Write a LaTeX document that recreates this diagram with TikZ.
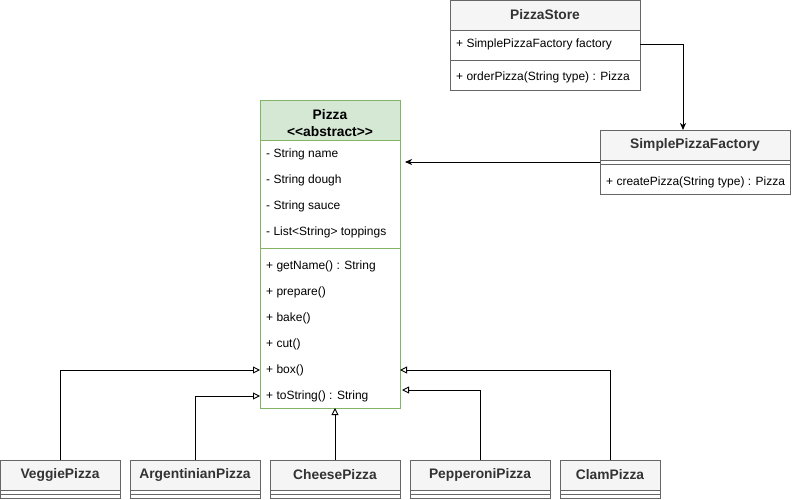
\documentclass[tikz,border=0pt]{standalone}
\usepackage{fontspec}
\setmainfont{Liberation Sans}
\usetikzlibrary{arrows.meta,calc}
\definecolor{hdrfill}{HTML}{F5F5F5}
\definecolor{hdrdraw}{HTML}{666666}
\definecolor{hdrtext}{HTML}{333333}
\definecolor{grnfill}{HTML}{D5E8D4}
\definecolor{grndraw}{HTML}{82B366}
\begin{document}
\begin{tikzpicture}[x=1pt,y=-1pt,
  classbox/.style={draw=hdrdraw, fill=white, inner sep=0pt, outer sep=0pt, anchor=north west, line width=0.9pt},
  hdr/.style={draw=hdrdraw, fill=hdrfill, inner sep=0pt, outer sep=0pt, anchor=north west, line width=0.9pt,
     text=hdrtext, font=\fontsize{13.8}{16}\selectfont\bfseries},
  ghdr/.style={draw=grndraw, fill=grnfill, inner sep=0pt, outer sep=0pt, anchor=north west, line width=0.9pt},
  glabel/.style={inner sep=0pt, text=black, align=center, font=\fontsize{13.8}{16.5}\selectfont\bfseries},
  gbox/.style={draw=grndraw, fill=white, inner sep=0pt, outer sep=0pt, anchor=north west, line width=0.9pt},
  member/.style={anchor=west, inner sep=0pt, font=\fontsize{12}{14}\selectfont},
  sepline/.style={draw=hdrdraw, line width=0.9pt},
  gsep/.style={draw=grndraw, line width=0.9pt},
  conn/.style={draw=black, line width=0.9pt},
  assoc/.style={conn, -{Stealth[length=7pt, width=6pt, inset=2pt]}},
  inherit/.style={conn, -{Triangle[open, length=7pt, width=7pt, fill=white]}}
]
\useasboundingbox (0,0) rectangle (792,500);

% PizzaStore
\node[classbox, minimum width=190pt, minimum height=90pt] (store) at (450,0) {};
\node[hdr, minimum width=190pt, minimum height=30pt] (storehdr) at (450,0) {PizzaStore};
\node[inner sep=0pt, outer sep=0pt, anchor=north west, minimum width=190pt, minimum height=30pt] (storeattr) at (450,29) {};
\node[member] (sa1) at (456,44) {+ SimplePizzaFactory factory};
\draw[sepline] (450,60) -- (640,60);
\node[member] (sm1) at (456,77) {+ orderPizza(String type) : Pizza};

% SimplePizzaFactory
\node[classbox, minimum width=190pt, minimum height=64pt] (factory) at (600,130) {};
\node[hdr, minimum width=190pt, minimum height=30pt] (factoryhdr) at (600,130) {SimplePizzaFactory};
\draw[sepline] (600,164) -- (790,164);
\node[member] (fm1) at (606,182) {+ createPizza(String type) : Pizza};

% Pizza
\node[gbox, minimum width=140pt, minimum height=308pt] (pizza) at (260,100) {};
\node[ghdr, minimum width=140pt, minimum height=40pt] (pizzahdr) at (260,100) {};
\node[glabel] (pizzalbl) at ([yshift=-3pt]pizzahdr.center) {Pizza\\<\kern0pt<abstract>\kern0pt>};
\node[member] (pa1) at (266,154) {- String name};
\node[member] (pa2) at (266,180) {- String dough};
\node[member] (pa3) at (266,206) {- String sauce};
\node[member] (pa4) at (266,232) {- List<String> toppings};
\draw[gsep] (260,248) -- (400,248);
\node[member] (pm1) at (266,266) {+ getName() : String};
\node[member] (pm2) at (266,292) {+ prepare()};
\node[member] (pm3) at (266,318) {+ bake()};
\node[member] (pm4) at (266,344) {+ cut()};
\node[member] (pm5) at (266,370) {+ box()};
\node[member] (pm6) at (266,396) {+ toString() : String};

% Subclasses
\foreach \nm/\lbl/\xx/\ww in {veggie/VeggiePizza/0/120, argentinian/ArgentinianPizza/130/130, cheese/CheesePizza/270/130, pepperoni/PepperoniPizza/410/140, clam/ClamPizza/560/100}{
  \node[classbox, minimum width=\ww pt, minimum height=38pt] (\nm) at (\xx,460) {};
  \node[hdr, minimum width=\ww pt, minimum height=30pt] (\nm hdr) at (\xx,460) {\lbl};
  \draw[sepline] (\nm.west |- 0,494) -- (\nm.east |- 0,494);
}

% Connectors
\draw[assoc] (storeattr.east) -| ([xshift=-12pt]factory.north);
\draw[assoc] (factory.west |- 0,162) -- ([xshift=5pt]pizza.east |- 0,162);
\draw[inherit] (veggie.north) |- (pizza.west |- pm5);
\draw[inherit] (argentinian.north) |- (pizza.west |- pm6);
\draw[inherit] (cheese.north) -- (pizza.south -| cheese.north);
\draw[inherit] (pepperoni.north) |- ([xshift=2pt]pizza.east |- 0,390);
\draw[inherit] (clam.north) |- (pizza.east |- pm5);
\end{tikzpicture}
\end{document}
